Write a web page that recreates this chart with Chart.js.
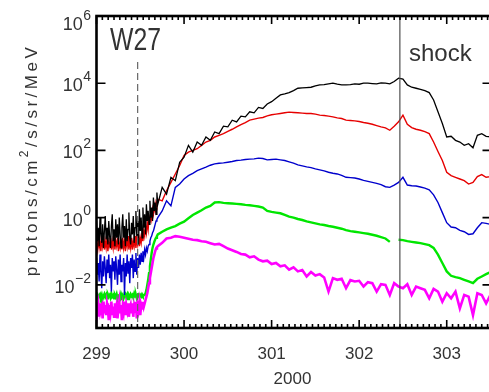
<!DOCTYPE html>
<html>
<head>
<meta charset="utf-8">
<script src="https://cdn.jsdelivr.net/npm/chart.js@4"></script>
<style>
  html, body { margin: 0; padding: 0; background: #fff; overflow: hidden; }
</style>
</head>
<body>
<canvas id="fluxChart" width="500" height="392"></canvas>
<script>
// day of year 2000
const days = [
  299.00, 299.01, 299.02, 299.03, 299.04, 299.05, 299.06, 299.07, 299.08, 299.09,
  299.10, 299.11, 299.12, 299.13, 299.14, 299.15, 299.16, 299.17, 299.18, 299.19,
  299.20, 299.21, 299.22, 299.23, 299.24, 299.25, 299.26, 299.27, 299.28, 299.29,
  299.30, 299.31, 299.32, 299.33, 299.34, 299.35, 299.36, 299.37, 299.38, 299.39,
  299.40, 299.41, 299.42, 299.43, 299.44, 299.45, 299.46, 299.47, 299.48, 299.49,
  299.50, 299.51, 299.52, 299.53, 299.54, 299.55, 299.56, 299.57, 299.58, 299.59,
  299.60, 299.61, 299.62, 299.63, 299.64, 299.65, 299.66, 299.67, 299.68, 299.69,
  299.70,
  299.75, 299.80, 299.85, 299.90, 299.95,
  300.00, 300.05, 300.10, 300.15, 300.20, 300.25, 300.30, 300.35, 300.40, 300.45,
  300.50, 300.55, 300.60, 300.65, 300.70, 300.75, 300.80, 300.85, 300.90, 300.95,
  301.00, 301.05, 301.10, 301.15, 301.20, 301.25, 301.30, 301.35, 301.40, 301.45,
  301.50, 301.55, 301.60, 301.65, 301.70, 301.75, 301.80, 301.85, 301.90, 301.95,
  302.00, 302.05, 302.10, 302.15, 302.20, 302.25, 302.30, 302.35, 302.40, 302.45,
  302.50, 302.55, 302.60, 302.65, 302.70, 302.75, 302.80, 302.85, 302.90, 302.95,
  303.00, 303.05, 303.10, 303.15, 303.20, 303.25, 303.30, 303.35, 303.40, 303.45,
  303.50
];

// log10 of the flux
const logBlack = [
  -0.1, -0.7, -0.3, -0.85, 0.0, -0.5, -0.75, -0.2, -0.9, -0.4,
  0.05, -0.65, -0.3, -0.8, -0.1, -0.55, -0.9, -0.25, 0.1, -0.7,
  -0.35, -0.85, -0.05, -0.6, -0.2, -0.8, 0.0, -0.5, -0.9, -0.3,
  0.1, -0.6, -0.25, -0.85, -0.05, -0.7, -0.35, 0.15, -0.6, -0.8,
  -0.15, -0.5, 0.05, -0.75, -0.3, 0.2, -0.55, -0.1, -0.8, 0.25,
  -0.4, 0.0, -0.6, 0.3, -0.3, 0.1, -0.5, 0.4, -0.1, 0.2,
  -0.2, 0.5, 0.0, 0.3, -0.1, 0.6, 0.2, 0.45, 0.1, 0.75,
  0.4,
  0.9, 0.7, 1.2, 1.1, 1.65,
  1.8, 2.15, 1.95, 2.25, 2.15, 2.4, 2.3, 2.55, 2.5, 2.72,
  2.7, 2.9, 2.85, 3.02, 3.0, 3.15, 3.12, 3.28, 3.25, 3.38,
  3.45, 3.55, 3.65, 3.68, 3.72, 3.78, 3.85, 3.86, 3.87, 3.88,
  3.92, 3.95, 3.96, 3.98, 4.0, 3.97, 3.95, 3.95, 3.96, 3.98,
  3.97, 4.0, 4.0, 3.99, 3.98, 4.01, 4.0, 3.98, 4.05, 4.15,
  4.12, 3.95, 3.88, 3.85, 3.82, 3.78, 3.72, 3.5, 3.15, 2.8,
  2.4, 2.42, 2.3, 2.25, 2.15, 2.2, 2.08, 2.45, 2.5, 2.42,
  2.4
];
const logRed = [
  -0.75, -0.95, -0.6, -0.9, -0.7, -1.0, -0.65, -0.85, -0.55, -0.95,
  -0.7, -0.9, -0.6, -1.0, -0.75, -0.85, -0.6, -0.95, -0.7, -0.9,
  -0.55, -0.95, -0.7, -0.85, -0.6, -1.0, -0.75, -0.9, -0.65, -0.95,
  -0.6, -0.9, -0.7, -1.0, -0.65, -0.85, -0.55, -0.95, -0.7, -0.9,
  -0.6, -0.95, -0.7, -0.85, -0.55, -0.9, -0.65, -0.8, -0.5, -0.85,
  -0.6, -0.75, -0.45, -0.7, -0.4, -0.55, -0.25, -0.45, -0.15, -0.35,
  0.0, -0.15, 0.1, -0.05, 0.25, 0.1, 0.35, 0.2, 0.45, 0.35,
  0.55,
  0.5, 0.8, 1.05, 1.3, 1.55,
  1.85, 1.95, 2.0, 2.05, 2.15, 2.25, 2.3, 2.4, 2.45, 2.5,
  2.57, 2.63, 2.7, 2.77, 2.83, 2.9, 2.93, 2.96, 2.98, 3.03,
  3.06, 3.08, 3.1, 3.12, 3.14, 3.13, 3.12, 3.11, 3.1, 3.1,
  3.08, 3.05, 3.04, 3.02, 3.0, 2.97, 2.95, 2.9, 2.89, 2.88,
  2.86, 2.83, 2.81, 2.78, 2.74, 2.7, 2.67, 2.6, 2.72, 2.85,
  3.05, 2.78, 2.68, 2.63, 2.6, 2.56, 2.5, 2.25, 1.97, 1.7,
  1.35, 1.25, 1.2, 1.15, 1.1, 1.0, 1.05, 1.22, 1.28, 1.2,
  1.22
];
const logBlue = [
  -1.2, -1.7, -1.35, -1.9, -1.1, -1.6, -2.1, -1.3, -1.75, -1.15,
  -1.5, -1.95, -1.25, -1.65, -1.1, -1.8, -1.4, -2.2, -1.2, -1.6,
  -1.3, -1.85, -1.15, -1.55, -2.0, -1.25, -1.7, -1.1, -1.9, -1.4,
  -1.6, -1.2, -2.3, -1.35, -1.75, -1.1, -1.65, -1.3, -1.95, -1.2,
  -1.5, -1.1, -1.8, -1.25, -1.6, -1.05, -1.7, -1.2, -1.5, -1.1,
  -1.4, -1.05, -1.3, -1.0, -1.2, -0.95, -1.1, -0.9, -1.0, -0.85,
  -0.8, -0.7, -0.6, -0.55, -0.45, -0.4, -0.3, -0.2, -0.1, -0.05,
  0.0,
  0.2, 0.5, 0.35, 0.9, 1.0,
  1.15, 1.25, 1.32, 1.4, 1.45, 1.5, 1.56, 1.6, 1.62, 1.63,
  1.65, 1.67, 1.7, 1.71, 1.73, 1.74, 1.75, 1.77, 1.76, 1.72,
  1.73, 1.74, 1.72, 1.7, 1.66, 1.62, 1.57, 1.54, 1.51, 1.49,
  1.45, 1.42, 1.39, 1.35, 1.32, 1.3, 1.26, 1.2, 1.19, 1.18,
  1.15, 1.11, 1.08, 1.05, 1.02, 0.98, 0.92, 0.9, 0.97, 1.05,
  1.2, 0.97, 0.95, 0.94, 0.91, 0.88, 0.83, 0.68, 0.45, 0.15,
  -0.15, -0.28, -0.3, -0.38, -0.42, -0.5, -0.48, -0.3, -0.15, -0.17,
  -0.2
];
const logGreen = [
  -2.35, -2.3, -2.4, -2.32, -2.28, -2.38, -2.3, -2.42, -2.33, -2.27,
  -2.36, -2.3, -2.4, -2.28, -2.34, -2.3, -2.38, -2.26, -2.35, -2.31,
  -2.4, -2.3, -2.36, -2.28, -2.42, -2.32, -2.3, -2.38, -2.27, -2.35,
  -2.3, -2.4, -2.33, -2.28, -2.37, -2.3, -2.42, -2.31, -2.36, -2.28,
  -2.34, -2.3, -2.38, -2.27, -2.35, -2.3, -2.4, -2.32, -2.29, -2.36,
  -2.3, -2.34, -2.28, -2.33, -2.3, -2.3, -2.25, -2.15, -2.0, -1.85,
  -1.65, -1.45, -1.25, -1.05, -0.9, -0.8, -0.72, -0.65, -0.6, -0.55,
  -0.5,
  -0.42, -0.35, -0.3, -0.25, -0.18,
  -0.12, -0.02, 0.08, 0.15, 0.22, 0.3, 0.35, 0.45, 0.46, 0.44,
  0.43, 0.42, 0.41, 0.4, 0.38, 0.37, 0.35, 0.33, 0.3, 0.2,
  0.17, 0.15, 0.13, 0.08, 0.03, 0.0, -0.04, -0.07, -0.11, -0.14,
  -0.17, -0.2, -0.22, -0.25, -0.27, -0.3, -0.33, -0.37, -0.4, -0.42,
  -0.44, -0.46, -0.48, -0.51, -0.54, -0.58, -0.62, -0.72, null, -0.66,
  -0.67, -0.7, -0.72, -0.74, -0.76, -0.79, -0.82, -0.9, -1.1, -1.35,
  -1.6, -1.73, -1.77, -1.8, -1.85, -1.9, -1.95, -1.82, -1.75, -1.68,
  -1.62
];
const logMagenta = [
  -2.5, -2.8, -2.6, -2.95, -2.55, -2.75, -2.65, -3.0, -2.5, -2.85,
  -2.6, -2.9, -2.55, -2.7, -3.05, -2.6, -2.8, -2.5, -2.9, -2.65,
  -2.95, -2.55, -2.75, -2.6, -3.0, -2.7, -2.5, -2.85, -2.6, -3.05,
  -2.65, -2.8, -2.5, -2.9, -2.6, -2.75, -2.55, -2.95, -2.7, -2.6,
  -2.85, -2.55, -2.95, -2.65, -2.8, -2.5, -3.0, -2.6, -2.75, -2.55,
  -2.9, -2.6, -2.7, -2.5, -2.65, -2.55, -2.45, -2.35, -2.25, -2.1,
  -1.95, -1.8, -1.65, -1.5, -1.35, -1.2, -1.1, -1.0, -0.92, -0.88,
  -0.85,
  -0.75, -0.62, -0.6, -0.55, -0.57,
  -0.6, -0.63, -0.66, -0.67, -0.7, -0.72, -0.76, -0.8, -0.78, -0.85,
  -0.92, -0.97, -1.02, -1.08, -1.1, -1.18, -1.15, -1.25, -1.3, -1.28,
  -1.38, -1.35, -1.45, -1.42, -1.55, -1.48, -1.6, -1.56, -1.75, -1.62,
  -1.72, -1.68, -1.78, -2.2, -1.8, -1.85, -1.82, -2.1, -1.86, -1.9,
  -1.88, -2.05, -1.92, -1.95, -2.2, -1.98, -2.0, -2.3, -1.95, -2.05,
  -2.1, -1.98, -2.3, -2.05, -2.1, -2.15, -2.4, -2.12, -2.2, -2.5,
  -2.25, -2.4, -2.2, -2.7, -2.3, -2.35, -2.9, -2.25, -2.3, -2.55,
  -2.3
];

const xTicks = [299, 300, 301, 302, 303];
const yTickPowers = [-2, 0, 2, 4, 6];
const onsetDay = 299.47;   // dashed line
const shockDay = 302.465;  // shock passage
const onsetTop = 4.63;     // log10 where dashed line starts
const xMin = 299, xMax = 303.5;
const yMin = 5.2e-4, yMax = 1e6;
const minorPerDay = 15;

const textColor = "#333";
const fontFamily = "'Liberation Sans', Arial, sans-serif";
Chart.defaults.font.family = fontFamily;

function toPoints(logs) {
  return days.map((d, i) => ({ x: d, y: logs[i] === null ? null : Math.pow(10, logs[i]) }));
}

function curve(logs, color, width) {
  return {
    data: toPoints(logs),
    borderColor: color,
    borderWidth: width,
    pointRadius: 0,
    tension: 0,
    spanGaps: false,
  };
}

// frame with inward ticks, log labels and annotations
const frameAndLabels = {
  id: "frameAndLabels",
  afterDraw(chart) {
    const { ctx, chartArea: area } = chart;
    const xs = chart.scales.x;
    const ys = chart.scales.y;
    ctx.save();

    ctx.strokeStyle = "#000";
    ctx.lineWidth = 1.6;
    ctx.beginPath();
    yTickPowers.forEach((p) => {
      const py = ys.getPixelForValue(Math.pow(10, p));
      ctx.moveTo(area.left, py);
      ctx.lineTo(area.left + 9, py);
      ctx.moveTo(area.right, py);
      ctx.lineTo(area.right - 8, py);
    });
    const steps = Math.round((xMax - xMin) * minorPerDay);
    for (let i = 0; i <= steps; i++) {
      const px = xs.getPixelForValue(xMin + i / minorPerDay);
      const len = i % minorPerDay === 0 ? 8 : 4;
      ctx.moveTo(px, area.bottom);
      ctx.lineTo(px, area.bottom - len);
      ctx.moveTo(px, area.top);
      ctx.lineTo(px, area.top + len);
    }
    ctx.stroke();

    ctx.lineWidth = 2.6;
    ctx.strokeRect(area.left, area.top, area.right - area.left, area.bottom - area.top);

    // y tick labels 10^n
    ctx.fillStyle = textColor;
    const labelRight = 91;
    yTickPowers.forEach((p) => {
      const py = ys.getPixelForValue(Math.pow(10, p));
      const mid = Math.max(py + 3, area.top + 9);
      const sup = p < 0 ? "\u2212" + Math.abs(p) : String(p);
      ctx.font = "14px " + fontFamily;
      const supW = ctx.measureText(sup).width;
      ctx.textBaseline = "middle";
      ctx.textAlign = "left";
      ctx.fillText(sup, labelRight - supW, mid - 9);
      ctx.font = "18px " + fontFamily;
      ctx.textAlign = "right";
      ctx.fillText("10", labelRight - supW - 0.5, mid);
    });

    // y title
    ctx.save();
    ctx.translate(37, 160);
    ctx.rotate(-Math.PI / 2);
    ctx.textAlign = "left";
    ctx.textBaseline = "alphabetic";
    ctx.letterSpacing = "3.5px";
    ctx.font = "17px " + fontFamily;
    const w1 = ctx.measureText("protons/cm").width;
    const w3 = ctx.measureText("/s/sr/MeV").width;
    ctx.font = "12px " + fontFamily;
    const w2 = ctx.measureText("2").width;
    let tx = -(w1 + w2 + w3) / 2;
    ctx.font = "17px " + fontFamily;
    ctx.fillText("protons/cm", tx, 0);
    ctx.font = "12px " + fontFamily;
    ctx.fillText("2", tx + w1, -9);
    ctx.font = "17px " + fontFamily;
    ctx.fillText("/s/sr/MeV", tx + w1 + w2, 0);
    ctx.restore();

    // x title
    ctx.font = "17px " + fontFamily;
    ctx.textAlign = "center";
    ctx.textBaseline = "alphabetic";
    ctx.fillText("2000", (area.left + area.right) / 2 - 1, 384);

    // annotations
    ctx.textAlign = "left";
    ctx.font = "24px " + fontFamily;
    ctx.fillText("shock", 409, 61);
    ctx.save();
    ctx.translate(110, 50);
    ctx.scale(0.8, 1);
    ctx.font = "31px " + fontFamily;
    ctx.fillText("W27", 0, 0);
    ctx.restore();

    ctx.restore();
  },
};

new Chart(document.getElementById("fluxChart").getContext("2d"), {
  type: "line",
  data: {
    datasets: [
      {
        data: [{ x: shockDay, y: yMax }, { x: shockDay, y: yMin }],
        borderColor: "#505050",
        borderWidth: 1.2,
        pointRadius: 0,
      },
      {
        data: [{ x: onsetDay, y: Math.pow(10, onsetTop) }, { x: onsetDay, y: yMin }],
        borderColor: "#666",
        borderWidth: 1.2,
        borderDash: [7, 4],
        pointRadius: 0,
      },
      curve(logBlack, "#000000", 1.3),
      curve(logRed, "#e60000", 1.4),
      curve(logBlue, "#0000cc", 1.4),
      curve(logMagenta, "#ff00ff", 2.6),
      curve(logGreen, "#00e600", 2.4),
    ],
  },
  options: {
    responsive: false,
    devicePixelRatio: 1,
    animation: false,
    layout: { padding: { left: 96.5, right: 9.5, top: 16, bottom: 0 } },
    plugins: {
      legend: { display: false },
      tooltip: { enabled: false },
    },
    scales: {
      x: {
        type: "linear",
        min: xMin,
        max: xMax,
        afterBuildTicks: (scale) => {
          scale.ticks = xTicks.map((v) => ({ value: v }));
        },
        afterFit: (scale) => {
          scale.height = 64;
        },
        grid: { display: false, drawTicks: false },
        border: { display: false },
        ticks: {
          color: textColor,
          font: { size: 17 },
          padding: 16,
          maxRotation: 0,
          autoSkip: false,
          callback: (v) => String(v),
        },
      },
      y: {
        type: "logarithmic",
        min: yMin,
        max: yMax,
        display: false,
      },
    },
  },
  plugins: [frameAndLabels],
});
</script>
</body>
</html>
